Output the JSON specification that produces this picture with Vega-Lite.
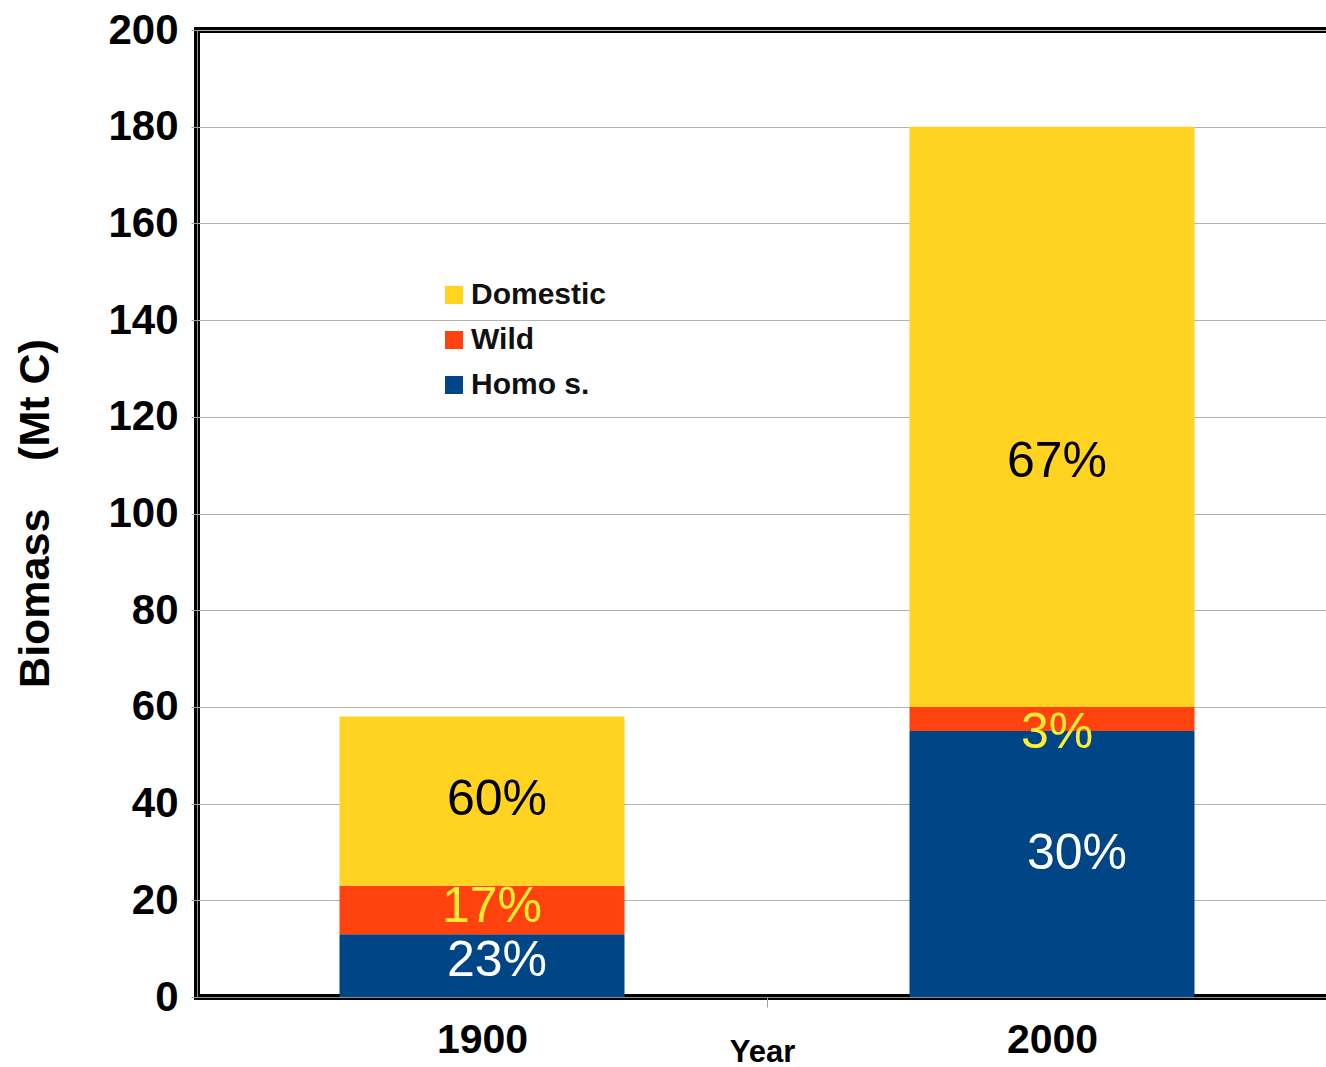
{
  "$schema": "https://vega.github.io/schema/vega-lite/v6.json",
  "width": 1140,
  "height": 967,
  "autosize": {"type": "none"},
  "padding": {"left": 197, "top": 30, "right": 0, "bottom": 70},
  "background": "white",
  "config": {
    "font": "Liberation Sans",
    "view": {"stroke": "#000000", "strokeWidth": 6},
    "axis": {"domainColor": "#8c8c8c", "domainWidth": 1, "tickColor": "#a0a0a0", "labelColor": "#000000", "titleColor": "#000000"}
  },
  "datasets": {
    "biomass": [
      {"year": "1900", "series": "Homo s.", "rank": 1, "value": 13, "share": "23%"},
      {"year": "1900", "series": "Wild", "rank": 2, "value": 10, "share": "17%"},
      {"year": "1900", "series": "Domestic", "rank": 3, "value": 35, "share": "60%"},
      {"year": "2000", "series": "Homo s.", "rank": 1, "value": 55, "share": "30%"},
      {"year": "2000", "series": "Wild", "rank": 2, "value": 5, "share": "3%"},
      {"year": "2000", "series": "Domestic", "rank": 3, "value": 120, "share": "67%"}
    ],
    "labels": [
      {"year": "1900", "series": "Homo s.", "label": "23%", "labelY": 7.4},
      {"year": "1900", "series": "Wild", "label": "17%", "labelY": 18.6},
      {"year": "1900", "series": "Domestic", "label": "60%", "labelY": 40.8},
      {"year": "2000", "series": "Homo s.", "label": "30%", "labelY": 29.6},
      {"year": "2000", "series": "Wild", "label": "3%", "labelY": 54.6},
      {"year": "2000", "series": "Domestic", "label": "67%", "labelY": 110.6}
    ]
  },
  "encoding": {
    "x": {
      "field": "year",
      "type": "nominal",
      "scale": {"paddingInner": 0.5, "paddingOuter": 0.25},
      "axis": {
        "labelAngle": 0,
        "labelFontSize": 41,
        "labelFontWeight": "bold",
        "labelPadding": 13,
        "tickOffset": 285,
        "labelOffset": -285,
        "tickSize": 10,
        "title": "Year",
        "titleFontSize": 31,
        "titleFontWeight": "bold",
        "titleX": 565,
        "titleY": 64,
        "titleBaseline": "alphabetic"
      }
    }
  },
  "layer": [
    {
      "data": {"name": "biomass"},
      "mark": {"type": "bar"},
      "encoding": {
        "y": {
          "field": "value",
          "type": "quantitative",
          "stack": "zero",
          "scale": {"domain": [0, 200], "nice": false},
          "axis": {
            "values": [0, 20, 40, 60, 80, 100, 120, 140, 160, 180, 200],
            "grid": true,
            "gridColor": "#b3b3b3",
            "gridWidth": 1,
            "labelFontSize": 42,
            "labelFontWeight": "bold",
            "labelPadding": 13,
            "tickSize": 6,
            "title": "Biomass\u00a0\u00a0\u00a0\u00a0(Mt C)",
            "titleFontSize": 43,
            "titleFontWeight": "bold",
            "titleX": -162,
            "titleY": 483,
            "titleBaseline": "middle"
          }
        },
        "order": {"field": "rank", "type": "quantitative"},
        "color": {
          "field": "series",
          "type": "nominal",
          "scale": {"domain": ["Domestic", "Wild", "Homo s."], "range": ["#ffd320", "#ff420e", "#004586"]},
          "legend": {
            "orient": "none",
            "legendX": 242,
            "legendY": 250,
            "title": null,
            "padding": 0,
            "symbolType": "square",
            "symbolSize": 324,
            "symbolStrokeWidth": 0,
            "labelFontSize": 30,
            "labelFontWeight": "bold",
            "labelColor": "#111111",
            "labelOffset": 2,
            "rowPadding": 15
          }
        }
      }
    },
    {
      "data": {"name": "labels"},
      "transform": [{"filter": "datum.label == '60%' || datum.label == '23%'"}],
      "mark": {"type": "text", "fontSize": 50, "baseline": "middle", "align": "center", "dx": 15},
      "encoding": {
        "y": {"field": "labelY", "type": "quantitative"},
        "text": {"field": "label"},
        "fill": {"field": "series", "type": "nominal", "scale": {"domain": ["Domestic", "Wild", "Homo s."], "range": ["#000000", "#ffee33", "#ffffff"]}, "legend": null}
      }
    },
    {
      "data": {"name": "labels"},
      "transform": [{"filter": "datum.label == '17%'"}],
      "mark": {"type": "text", "fontSize": 50, "baseline": "middle", "align": "center", "dx": 10},
      "encoding": {
        "y": {"field": "labelY", "type": "quantitative"},
        "text": {"field": "label"},
        "fill": {"field": "series", "type": "nominal", "scale": {"domain": ["Domestic", "Wild", "Homo s."], "range": ["#000000", "#ffee33", "#ffffff"]}, "legend": null}
      }
    },
    {
      "data": {"name": "labels"},
      "transform": [{"filter": "datum.label == '67%' || datum.label == '3%'"}],
      "mark": {"type": "text", "fontSize": 50, "baseline": "middle", "align": "center", "dx": 5},
      "encoding": {
        "y": {"field": "labelY", "type": "quantitative"},
        "text": {"field": "label"},
        "fill": {"field": "series", "type": "nominal", "scale": {"domain": ["Domestic", "Wild", "Homo s."], "range": ["#000000", "#ffee33", "#ffffff"]}, "legend": null}
      }
    },
    {
      "data": {"name": "labels"},
      "transform": [{"filter": "datum.label == '30%'"}],
      "mark": {"type": "text", "fontSize": 50, "baseline": "middle", "align": "center", "dx": 25},
      "encoding": {
        "y": {"field": "labelY", "type": "quantitative"},
        "text": {"field": "label"},
        "fill": {"field": "series", "type": "nominal", "scale": {"domain": ["Domestic", "Wild", "Homo s."], "range": ["#000000", "#ffee33", "#ffffff"]}, "legend": null}
      }
    }
  ]
}
